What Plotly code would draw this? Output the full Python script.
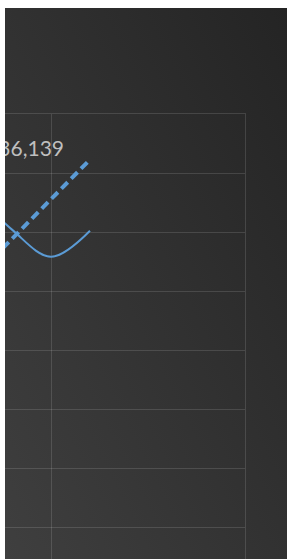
import base64
import plotly.graph_objects as go

# ---- data ----
months = [9, 10, 11, 12]                      # category positions (month index)
actual = [33500, 30200, 27900, 30100]         # smoothed series
trend = [26060, 29420, 32780, 36139]          # linear trend / forecast
label_value = 36139
grid_x = [11]                                 # vertical gridline position
y_grid = [5000, 10000, 15000, 20000, 25000, 30000, 35000]

# ---- layout constants ----
W, H = 287, 559
ML, MR, MT, MB = 5, 42, 114, 0
X_RANGE = [9.8205, 15.974]
Y_RANGE = [2288.1, 40000]
BLUE = "#5B9BD5"
GRID = "rgba(255,255,255,0.13)"

plot_w = W - ML - MR
plot_h = H - MT - MB
px_per_x = plot_w / (X_RANGE[1] - X_RANGE[0])
px_per_y = plot_h / (Y_RANGE[1] - Y_RANGE[0])
LABEL_DX_PX, LABEL_DY_PX = -26, 9

svg = ('<svg xmlns="http://www.w3.org/2000/svg" width="100" height="100" '
       'preserveAspectRatio="none"><defs><linearGradient id="g" x1="0" y1="1" '
       'x2="1" y2="0"><stop offset="0" stop-color="#3f3f3f"/>'
       '<stop offset="1" stop-color="#242424"/></linearGradient></defs>'
       '<rect width="100" height="100" fill="url(#g)"/></svg>')
src = "data:image/svg+xml;base64," + base64.b64encode(svg.encode()).decode()

fig = go.Figure()
fig.add_trace(go.Scatter(x=months, y=actual, mode="lines",
                         line=dict(color=BLUE, width=2, shape="spline", smoothing=1),
                         hoverinfo="skip", showlegend=False))
fig.add_trace(go.Scatter(x=months, y=trend, mode="lines",
                         line=dict(color=BLUE, width=4, dash="9px,5px"),
                         hoverinfo="skip", showlegend=False))
fig.add_trace(go.Scatter(x=[months[-1] + LABEL_DX_PX / px_per_x],
                         y=[label_value + LABEL_DY_PX / px_per_y],
                         mode="text", text=[f"{label_value:,}"],
                         textposition="middle left",
                         textfont=dict(family="Lato", size=21, color="#bfbfbf"),
                         cliponaxis=True, hoverinfo="skip", showlegend=False))

fig.update_layout(
    width=W, height=H,
    margin=dict(l=ML, r=MR, t=MT, b=MB, pad=0),
    paper_bgcolor="white",
    plot_bgcolor="rgba(0,0,0,0)",
    images=[dict(source=src, xref="paper", yref="paper",
                 x=0, y=1 + (MT - 8) / plot_h,
                 sizex=(W - ML) / plot_w, sizey=1 + (MT - 8) / plot_h,
                 xanchor="left", yanchor="top", sizing="stretch", layer="below")],
    xaxis=dict(range=X_RANGE, tickmode="array", tickvals=grid_x,
               showticklabels=False, ticks="", showgrid=True, gridcolor=GRID,
               gridwidth=1, zeroline=False, side="top",
               showline=True, linecolor=GRID, linewidth=1),
    yaxis=dict(range=Y_RANGE, tickmode="array", tickvals=y_grid,
               showticklabels=False, ticks="", showgrid=True, gridcolor=GRID,
               gridwidth=1, zeroline=False, side="right",
               showline=True, linecolor=GRID, linewidth=1),
)

fig.write_html("out.html", config={"displayModeBar": False},
               post_script="document.body.style.margin='0';")
